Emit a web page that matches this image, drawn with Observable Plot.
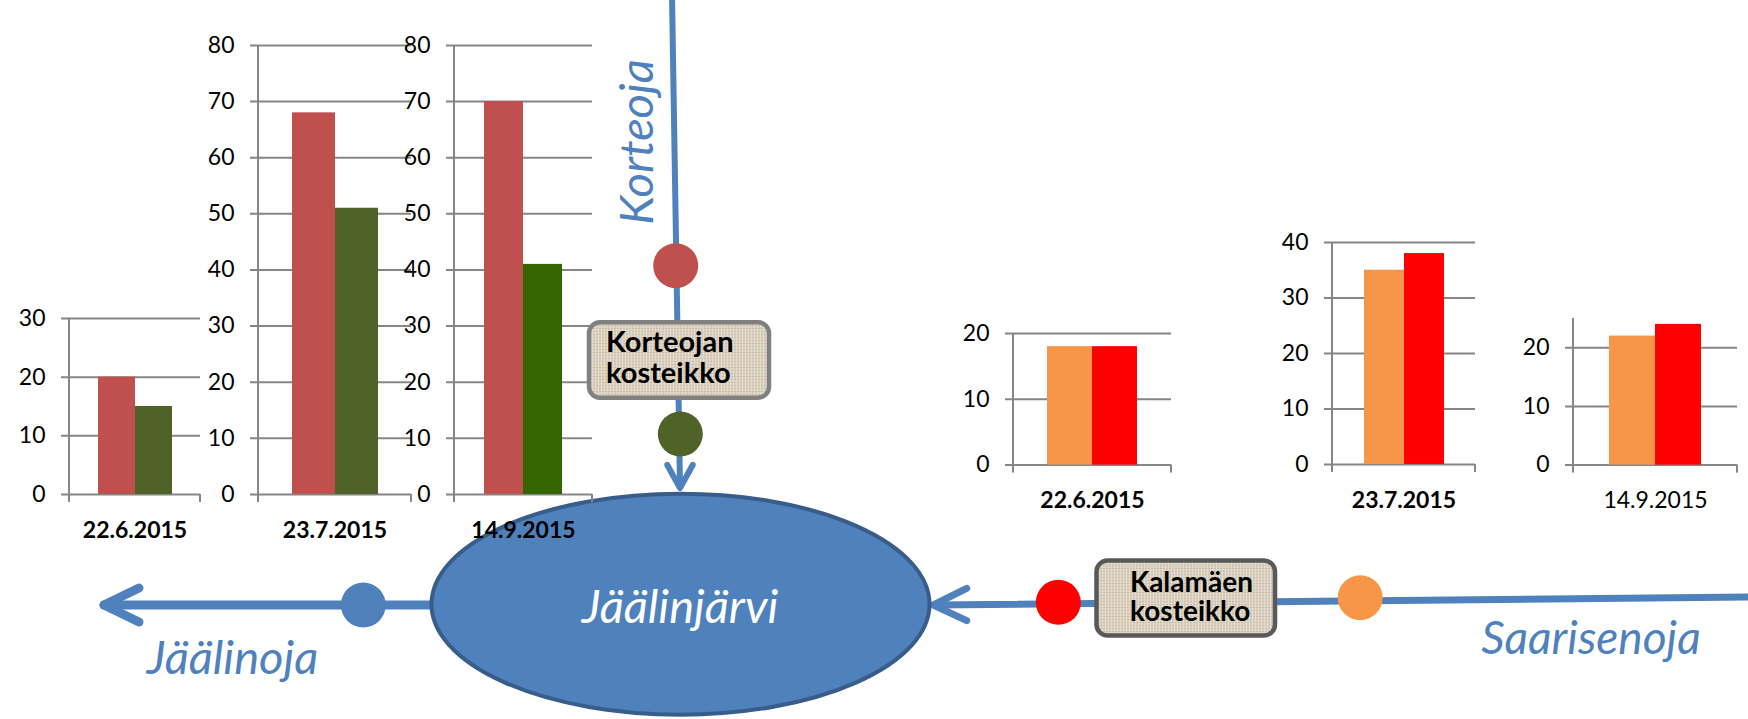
<!DOCTYPE html>
<html>
<head>
<meta charset="utf-8">
<script src="https://cdn.jsdelivr.net/npm/d3@7"></script>
<script src="https://cdn.jsdelivr.net/npm/@observablehq/plot@0.6"></script>
<style>
html, body { margin: 0; padding: 0; background: #fff; }
#root { position: relative; width: 1748px; height: 719px; overflow: hidden; font-family: Lato, sans-serif; }
#root > svg, #root > div { position: absolute; }
#root > div > svg { display: block; max-width: none; }
</style>
</head>
<body>
<div id="root"></div>
<script>
// ---------------- DATA ----------------
const dates = ["22.6.2015", "23.7.2015", "14.9.2015"];

// Korteoja: sampling point above (red dot) and below (green dot) Korteojan kosteikko
const korteojaSeries = ["ennen kosteikkoa", "kosteikon jälkeen"];
const korteojaBefore = [20, 68, 70];
const korteojaAfter = [15, 51, 41];

// Saarisenoja: upstream (orange dot) and downstream (red dot) of Kalamäen kosteikko
const saarisSeries = ["ennen kosteikkoa", "kosteikon jälkeen"];
const saarisBefore = [18, 35, 22];
const saarisAfter = [18, 38, 24];

// y-axis extents and tick labels of the six small charts
const korteojaYMax = [30, 80, 80];
const korteojaTicks = [[0, 10, 20, 30], [0, 10, 20, 30, 40, 50, 60, 70, 80], [0, 10, 20, 30, 40, 50, 60, 70, 80]];
const saarisYMax = [20, 40, 25];
const saarisTicks = [[0, 10, 20], [0, 10, 20, 30, 40], [0, 10, 20]];

// ---------------- STYLE / LAYOUT ----------------
const korteojaColors = [["#C0504D", "#4F6228"], ["#C0504D", "#4F6228"], ["#C0504D", "#336600"]];
const saarisColors = [["#F79646", "#FF0000"], ["#F79646", "#FF0000"], ["#F79646", "#FF0000"]];

// pixel frame of each chart's plot area: y-axis x, right end, top, baseline
const korteojaFrames = [
  {axisX: 69, rightX: 200, yTop: 318.3, y0: 494.3, bold: true},
  {axisX: 258.3, rightX: 411.7, yTop: 45, y0: 494, bold: true},
  {axisX: 454, rightX: 592.3, yTop: 45, y0: 494, bold: true}
];
const saarisFrames = [
  {axisX: 1013.3, rightX: 1171.7, yTop: 332.7, y0: 464.3, bold: true},
  {axisX: 1331.7, rightX: 1475, yTop: 242.3, y0: 464.3, bold: true},
  {axisX: 1572.7, rightX: 1736.7, yTop: 317.7, y0: 464.3, bold: false}
];

const GRID = "#868686";
const BLUE = "#4F81BD";

const root = d3.select("#root");

// ---------------- DIAGRAM: bottom layer ----------------
const bg = root.append("svg").attr("width", 1748).attr("height", 719).style("left", "0px").style("top", "0px");

function polyline(svg, pts, w) {
  svg.append("polyline")
    .attr("points", pts.map(p => p.join(",")).join(" "))
    .attr("fill", "none").attr("stroke", BLUE).attr("stroke-width", w)
    .attr("stroke-linecap", "round").attr("stroke-linejoin", "round");
}
// Korteoja (into lake from the top)
polyline(bg, [[672, -5], [680, 486]], 6);
polyline(bg, [[667.3, 465], [680, 488], [692.7, 465]], 6);
// Jäälinoja (out of the lake to the left)
polyline(bg, [[440, 605], [104, 605]], 9);
polyline(bg, [[139, 588], [104, 605], [139, 622]], 9);
// Saarisenoja (into lake from the right)
polyline(bg, [[1760, 597], [936, 605]], 7);
polyline(bg, [[966.7, 588.3], [933.3, 605], [966.7, 620.7]], 7);
// Lake
bg.append("ellipse").attr("cx", 680.5).attr("cy", 604.2).attr("rx", 249).attr("ry", 110.5)
  .attr("fill", BLUE).attr("stroke", "#385D8A").attr("stroke-width", 4);

// ---------------- CHARTS ----------------
function axisLines(index, scales, values, dims) {
  const {width, height, marginLeft, marginRight, marginTop, marginBottom} = dims;
  const y0 = height - marginBottom;
  const g = d3.create("svg:g").attr("stroke", GRID).attr("stroke-width", 2);
  g.append("line").attr("x1", marginLeft).attr("x2", marginLeft).attr("y1", marginTop).attr("y2", y0 + 8);
  g.append("line").attr("x1", width - marginRight).attr("x2", width - marginRight).attr("y1", y0).attr("y2", y0 + 8);
  return g.node();
}

function makeChart(frame, date, seriesNames, values, colors, ymax, ticks) {
  const mL = 60, mR = 6, mT = 16, mB = 56;
  const w = mL + (frame.rightX - frame.axisX) + mR;
  const h = mT + (frame.y0 - frame.yTop) + mB;
  const rows = seriesNames.map((s, j) => ({date, series: s, value: values[j]}));
  const svg = Plot.plot({
    width: w, height: h,
    marginLeft: mL, marginRight: mR, marginTop: mT, marginBottom: mB,
    style: {background: "transparent", overflow: "visible", fontFamily: "Lato, sans-serif", fontSize: "23px", color: "#000"},
    fx: {domain: [date], padding: 0, axis: null},
    x: {domain: seriesNames, paddingInner: 0, paddingOuter: 0.75, axis: null},
    y: {domain: [0, ymax], axis: null},
    color: {domain: seriesNames, range: colors},
    marks: [
      Plot.ruleY(ticks, {stroke: GRID, strokeWidth: 2, insetLeft: -8}),
      Plot.barY(rows, {fx: "date", x: "series", y: "value", fill: "series"}),
      axisLines,
      Plot.axisY({ticks, tickSize: 0, tickPadding: 24, label: null, fontSize: 23, fill: "#000"}),
      Plot.axisFx({anchor: "bottom", tickSize: 0, tickPadding: 27, label: null, fontSize: 23,
                   fontWeight: frame.bold ? "bold" : "normal", fill: "#000"})
    ]
  });
  root.append("div")
    .style("left", (frame.axisX - mL) + "px")
    .style("top", (frame.yTop - mT) + "px")
    .style("width", w + "px").style("height", h + "px")
    .node().appendChild(svg);
}

dates.forEach((d, i) => {
  makeChart(korteojaFrames[i], d, korteojaSeries, [korteojaBefore[i], korteojaAfter[i]], korteojaColors[i], korteojaYMax[i], korteojaTicks[i]);
  makeChart(saarisFrames[i], d, saarisSeries, [saarisBefore[i], saarisAfter[i]], saarisColors[i], saarisYMax[i], saarisTicks[i]);
});

// ---------------- DIAGRAM: top layer ----------------
const fg = root.append("svg").attr("width", 1748).attr("height", 719)
  .style("left", "0px").style("top", "0px").style("pointer-events", "none");

const defs = fg.append("defs");
const pat = defs.append("pattern").attr("id", "linen").attr("patternUnits", "userSpaceOnUse").attr("width", 6).attr("height", 6);
pat.append("rect").attr("width", 6).attr("height", 6).attr("fill", "#DAD0BF");
pat.append("path").attr("d", "M0,1.5H6M0,4.5H6").attr("stroke", "#CBBFAB").attr("stroke-width", 1);
pat.append("path").attr("d", "M1.5,0V6M4.5,0V6").attr("stroke", "#E6DFD1").attr("stroke-width", 1).attr("opacity", 0.8);

function box(x, y, w, h, stroke, lines, tx, baselines, size) {
  fg.append("rect").attr("x", x).attr("y", y).attr("width", w).attr("height", h)
    .attr("rx", 11).attr("fill", "url(#linen)").attr("stroke", stroke).attr("stroke-width", 4.5);
  lines.forEach((t, k) => {
    fg.append("text").attr("x", tx).attr("y", baselines[k]).text(t)
      .attr("font-family", "Lato, sans-serif").attr("font-weight", "bold").attr("font-size", size).attr("fill", "#000");
  });
}
box(589, 322.3, 180, 75.4, "#808080", ["Korteojan", "kosteikko"], 606, [352, 382.5], 29);
box(1096.5, 560.5, 178.5, 75, "#595959", ["Kalamäen", "kosteikko"], 1130, [592, 621], 28);

const dots = [
  [675.7, 265.7, "#C0504D"],
  [680.3, 434, "#4F6228"],
  [363.3, 605, BLUE],
  [1058.3, 602.3, "#FF0000"],
  [1360.2, 597.7, "#F79646"]
];
dots.forEach(([cx, cy, c]) => fg.append("circle").attr("cx", cx).attr("cy", cy).attr("r", 22.5).attr("fill", c));

function label(txt, x, y, size, color, rotate) {
  fg.append("text").text(txt)
    .attr("transform", `translate(${x},${y})` + (rotate ? " rotate(-90)" : ""))
    .attr("text-anchor", "middle")
    .attr("font-family", "Lato, sans-serif").attr("font-style", "italic")
    .attr("font-size", size).attr("fill", color);
}
label("Jäälinjärvi", 680, 623, 47, "#fff", false);
label("Jäälinoja", 232.5, 674, 47, BLUE, false);
label("Saarisenoja", 1591, 654, 46, BLUE, false);
label("Korteoja", 653, 142, 47, BLUE, true);
</script>
</body>
</html>
